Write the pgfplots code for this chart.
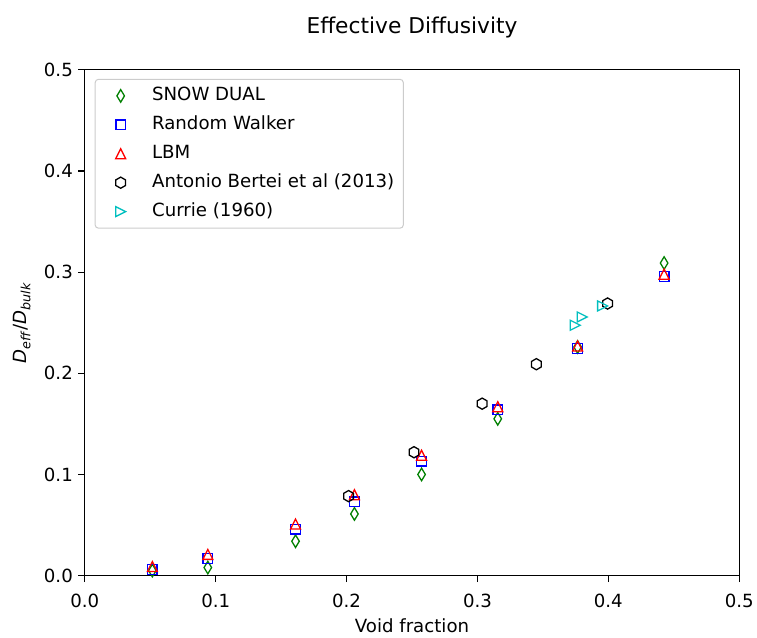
\documentclass[border=0pt]{standalone}
\usepackage{fontspec}
\setmainfont{DejaVu Sans}
\usepackage{pgfplots}
\pgfplotsset{compat=1.18}

% matplotlib-like hollow markers
\pgfdeclareplotmark{tri up}{%
  \pgfpathmoveto{\pgfqpoint{0pt}{\pgfplotmarksize}}%
  \pgfpathlineto{\pgfqpoint{-\pgfplotmarksize}{-\pgfplotmarksize}}%
  \pgfpathlineto{\pgfqpoint{\pgfplotmarksize}{-\pgfplotmarksize}}%
  \pgfpathclose\pgfusepathqstroke}
\pgfdeclareplotmark{tri right}{%
  \pgfpathmoveto{\pgfqpoint{\pgfplotmarksize}{0pt}}%
  \pgfpathlineto{\pgfqpoint{-\pgfplotmarksize}{\pgfplotmarksize}}%
  \pgfpathlineto{\pgfqpoint{-\pgfplotmarksize}{-\pgfplotmarksize}}%
  \pgfpathclose\pgfusepathqstroke}
\pgfdeclareplotmark{thin diamond}{%
  \pgfpathmoveto{\pgfqpoint{0pt}{\pgfplotmarksize}}%
  \pgfpathlineto{\pgfqpoint{0.6\pgfplotmarksize}{0pt}}%
  \pgfpathlineto{\pgfqpoint{0pt}{-\pgfplotmarksize}}%
  \pgfpathlineto{\pgfqpoint{-0.6\pgfplotmarksize}{0pt}}%
  \pgfpathclose\pgfusepathqstroke}
\pgfdeclareplotmark{hexagon}{%
  \pgfpathmoveto{\pgfqpointpolar{90}{\pgfplotmarksize}}%
  \pgfpathlineto{\pgfqpointpolar{150}{\pgfplotmarksize}}%
  \pgfpathlineto{\pgfqpointpolar{210}{\pgfplotmarksize}}%
  \pgfpathlineto{\pgfqpointpolar{270}{\pgfplotmarksize}}%
  \pgfpathlineto{\pgfqpointpolar{330}{\pgfplotmarksize}}%
  \pgfpathlineto{\pgfqpointpolar{30}{\pgfplotmarksize}}%
  \pgfpathclose\pgfusepathqstroke}

\definecolor{mplgreen}{rgb}{0,0.5,0}
\definecolor{mplblue}{rgb}{0,0,1}
\definecolor{mplred}{rgb}{1,0,0}
\definecolor{mplcyan}{rgb}{0,0.75,0.75}

\pgfplotsset{
  mk/.style={only marks, mark options={line width=1.3bp, solid},
    legend image code/.code={%
      \path (0bp,0bp) (32bp,0bp);
      \draw[##1] plot coordinates {(16bp,0bp)};}},
}

\newcommand\tickfont{\fontsize{18.2bp}{22bp}\selectfont}

\begin{document}
\begin{tikzpicture}
\begin{axis}[
  name=ax,
  width=656bp, height=507bp, scale only axis,
  xmin=0, xmax=0.5, ymin=0, ymax=0.5,
  xtick={0,0.1,0.2,0.3,0.4,0.5},
  ytick={0,0.1,0.2,0.3,0.4,0.5},
  /pgf/number format/assume math mode=true,
  /pgf/number format/.cd, fixed, fixed zerofill, precision=1, /pgfplots/.cd,
  tick label style={font=\tickfont},
  xticklabel style={yshift=-8bp},
  yticklabel style={xshift=-2bp},
  xtick pos=bottom, ytick pos=left,
  tick align=outside,
  major tick length=6.5bp,
  every tick/.style={black, line width=1.1bp},
  axis line style={line width=1.1bp},
  title={Effective Diffusivity},
  title style={font=\fontsize{21.8bp}{26bp}\selectfont,
    at={(axis description cs:0.5,1.061)}, anchor=base},
  xlabel={Void fraction},
  xlabel style={font=\tickfont, at={(axis description cs:0.5,-0.099)}, anchor=center},
  ylabel={\textit{D}\textsubscript{\textit{eff}}/\textit{D}\textsubscript{\textit{bulk}}},
  ylabel style={font=\tickfont, at={(axis description cs:-0.096,0.5)}, anchor=center},
  legend cell align=left,
  legend style={at={(axis description cs:0.0152,0.982)}, anchor=north west,
    draw=black!20, line width=1bp, rounded corners=3bp,
    font=\tickfont, inner xsep=9bp, inner ysep=8bp,
    row sep=12bp, column sep=15bp,
    nodes={inner sep=0bp, text height=13bp, text depth=4bp}},
  clip=false,
]
% SNOW DUAL
\addplot[mk, mplgreen, mark=thin diamond, mark size=6.3bp] coordinates {
  (0.0516,0.005) (0.0940,0.008) (0.1610,0.034) (0.2060,0.061)
  (0.2573,0.100) (0.3155,0.155) (0.3765,0.226) (0.4426,0.309)};
\addlegendentry{SNOW DUAL}
% Random Walker
\addplot[mk, mplblue, mark=square, mark size=4.8bp] coordinates {
  (0.0516,0.006) (0.0940,0.017) (0.1610,0.046) (0.2060,0.073)
  (0.2573,0.113) (0.3155,0.164) (0.3765,0.2245) (0.4426,0.2956)};
\addlegendentry{Random Walker}
% LBM
\addplot[mk, mplred, mark=tri up, mark size=5bp] coordinates {
  (0.0516,0.009) (0.0940,0.021) (0.1610,0.051) (0.2060,0.080)
  (0.2573,0.119) (0.3155,0.167) (0.3765,0.227) (0.4426,0.298)};
\addlegendentry{LBM}
% Bertei et al. (2013)
\addplot[mk, black, mark=hexagon, mark size=5.6bp] coordinates {
  (0.2015,0.0786) (0.2515,0.122) (0.3036,0.170) (0.3450,0.209) (0.3994,0.269)};
\addlegendentry{Antonio Bertei et al (2013)}
% Currie (1960)
\addplot[mk, mplcyan, mark=tri right, mark size=5bp] coordinates {
  (0.3747,0.2475) (0.3800,0.2557) (0.3956,0.2666)};
\addlegendentry{Currie (1960)}
\end{axis}
\path (ax.south west) ++(-85bp,-62bp) rectangle ++(757bp,639bp);
\end{tikzpicture}
\end{document}
